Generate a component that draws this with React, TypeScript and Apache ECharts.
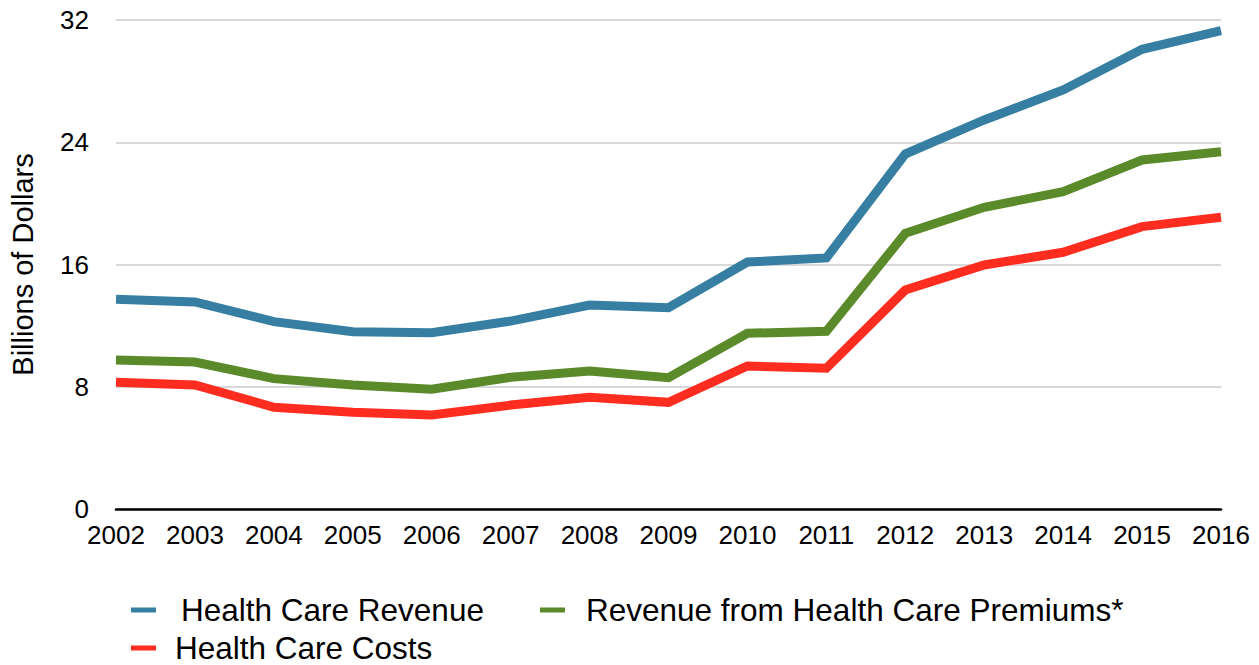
import React, { useEffect, useRef } from "react";
import * as echarts from "echarts";

const years = ["2002","2003","2004","2005","2006","2007","2008","2009","2010","2011","2012","2013","2014","2015","2016"];
const revenue = [13.72, 13.55, 12.26, 11.6, 11.54, 12.3, 13.35, 13.17, 16.16, 16.43, 23.23, 25.46, 27.42, 30.08, 31.3];
const premiums = [9.75, 9.62, 8.53, 8.12, 7.84, 8.62, 9.03, 8.59, 11.5, 11.63, 18.04, 19.74, 20.77, 22.84, 23.38];
const costs = [8.29, 8.12, 6.66, 6.33, 6.15, 6.8, 7.31, 6.98, 9.36, 9.21, 14.33, 15.97, 16.8, 18.48, 19.09];

const seriesNames = ["Health Care Revenue", "Revenue from Health Care Premiums*", "Health Care Costs"];
const colors = ["#367fa3", "#5a8a29", "#ff2d20"];

const FONT = "'Liberation Sans', Arial, Helvetica, sans-serif";

export default function App() {
  const ref = useRef<HTMLDivElement>(null);
  useEffect(() => {
    if (!ref.current) return;
    const chart = echarts.init(ref.current, undefined, { renderer: "svg" });
    const mkLegend = (name: string, left: number, top: number, pad: number) => ({
      left,
      top,
      data: [name],
      icon: "rect",
      itemWidth: 25,
      itemHeight: 5,
      selectedMode: false,
      padding: 0,
      textStyle: { fontFamily: FONT, fontSize: 31.5, color: "#000", padding: [0, 0, 0, pad] },
    });
    chart.setOption({
      animation: false,
      textStyle: { fontFamily: FONT },
      grid: { left: 112, right: 38, top: 20, bottom: 156, containLabel: false },
      legend: [
        mkLegend(seriesNames[0], 131, 594, 20),
        mkLegend(seriesNames[1], 540, 594, 16),
        mkLegend(seriesNames[2], 131, 632, 14),
      ],
      xAxis: {
        type: "category",
        data: years,
        boundaryGap: false,
        axisLine: { lineStyle: { color: "#000", width: 2.5 } },
        axisTick: { show: false },
        axisLabel: { color: "#000", fontSize: 26, margin: 13, fontFamily: FONT },
      },
      yAxis: {
        type: "value",
        min: 0,
        max: 32,
        interval: 8,
        name: "Billions of Dollars",
        nameLocation: "middle",
        nameGap: 79,
        nameRotate: 90,
        nameTextStyle: { color: "#000", fontSize: 29, fontFamily: FONT },
        axisLine: { show: false },
        axisTick: { show: false },
        axisLabel: { color: "#000", fontSize: 26, margin: 27, fontFamily: FONT },
        splitLine: { lineStyle: { color: "#cccccc", width: 1.5 } },
      },
      series: [
        { name: seriesNames[0], type: "line", data: revenue, color: colors[0] },
        { name: seriesNames[1], type: "line", data: premiums, color: colors[1] },
        { name: seriesNames[2], type: "line", data: costs, color: colors[2] },
      ].map((s) => ({
        ...s,
        showSymbol: false,
        symbol: "none",
        lineStyle: { width: 9, color: s.color, cap: "butt", join: "miter" },
        itemStyle: { color: s.color },
      })),
    });
    return () => chart.dispose();
  }, []);
  return <div ref={ref} style={{ width: 1259, height: 665, position: "absolute", left: 0, top: 0 }} />;
}
